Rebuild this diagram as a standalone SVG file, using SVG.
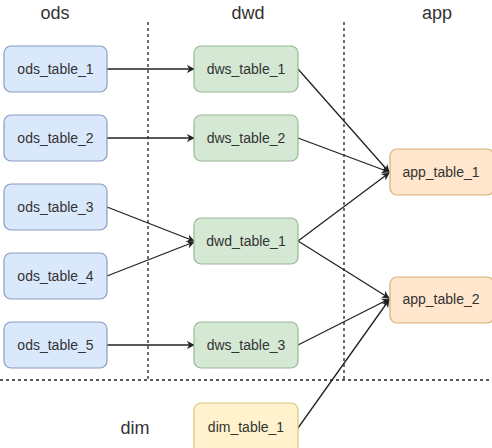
<svg xmlns="http://www.w3.org/2000/svg" width="492" height="448" viewBox="0 0 492 448">
<style>
.t{font-family:"Liberation Sans",Arial,sans-serif;font-size:14px;fill:#333;text-anchor:middle;dominant-baseline:central}
.h{font-family:"Liberation Sans",Arial,sans-serif;font-size:18px;fill:#333;text-anchor:middle;dominant-baseline:central}
.ods{fill:#dae8fc;stroke:#8a9cc0;stroke-width:1.2}
.dw{fill:#d5e8d4;stroke:#9ab894;stroke-width:1.2}
.app{fill:#ffe6cc;stroke:#d7b074;stroke-width:1.2}
.dim{fill:#fff2cc;stroke:#d8c37a;stroke-width:1.2}
.dash{stroke:#222;stroke-width:1.3;stroke-dasharray:3 3;fill:none}
.c{stroke:#222;stroke-width:1.3;fill:none;marker-end:url(#a)}
</style>
<defs>
<marker id="a" viewBox="0 0 10 10" refX="9" refY="5" markerWidth="8" markerHeight="8" markerUnits="userSpaceOnUse" orient="auto">
<path d="M0,0 L10,5 L0,10 L3,5 Z" fill="#222"/>
</marker>
</defs>
<rect width="492" height="448" fill="#fff"/>
<g id="lanes">
<line class="dash" x1="148" y1="22" x2="148" y2="380"/>
<line class="dash" x1="344" y1="22" x2="344" y2="380"/>
<line class="dash" x1="0" y1="380" x2="492" y2="380"/>
<text class="h" x="55" y="13">ods</text>
<text class="h" x="248" y="13">dwd</text>
<text class="h" x="437" y="13">app</text>
<text class="h" x="135" y="428">dim</text>
</g>
<g id="connectors">
<line class="c" x1="107" y1="69" x2="194" y2="69"/>
<line class="c" x1="107" y1="138" x2="194" y2="138"/>
<line class="c" x1="107" y1="207" x2="194" y2="241"/>
<line class="c" x1="107" y1="276" x2="194" y2="242"/>
<line class="c" x1="107" y1="345" x2="194" y2="345"/>
<line class="c" x1="298" y1="69" x2="389" y2="172"/>
<line class="c" x1="298" y1="138" x2="389" y2="172"/>
<line class="c" x1="298" y1="241" x2="389" y2="173"/>
<line class="c" x1="298" y1="241" x2="389" y2="298"/>
<line class="c" x1="298" y1="345" x2="389" y2="299"/>
<line class="c" x1="298" y1="428" x2="389" y2="300"/>
</g>
<g id="ods_table_1"><rect class="ods" x="4" y="46" width="103" height="46" rx="7"/><text class="t" x="55.5" y="69">ods_table_1</text></g>
<g id="ods_table_2"><rect class="ods" x="4" y="115" width="103" height="46" rx="7"/><text class="t" x="55.5" y="138">ods_table_2</text></g>
<g id="ods_table_3"><rect class="ods" x="4" y="184" width="103" height="46" rx="7"/><text class="t" x="55.5" y="207">ods_table_3</text></g>
<g id="ods_table_4"><rect class="ods" x="4" y="253" width="103" height="46" rx="7"/><text class="t" x="55.5" y="276">ods_table_4</text></g>
<g id="ods_table_5"><rect class="ods" x="4" y="322" width="103" height="46" rx="7"/><text class="t" x="55.5" y="345">ods_table_5</text></g>
<g id="dws_table_1"><rect class="dw" x="194" y="46" width="104" height="46" rx="7"/><text class="t" x="246" y="69">dws_table_1</text></g>
<g id="dws_table_2"><rect class="dw" x="194" y="115" width="104" height="46" rx="7"/><text class="t" x="246" y="138">dws_table_2</text></g>
<g id="dwd_table_1"><rect class="dw" x="194" y="218" width="104" height="46" rx="7"/><text class="t" x="246" y="241">dwd_table_1</text></g>
<g id="dws_table_3"><rect class="dw" x="194" y="322" width="104" height="46" rx="7"/><text class="t" x="246" y="345">dws_table_3</text></g>
<g id="dim_table_1"><rect class="dim" x="194" y="403" width="104" height="50" rx="7"/><text class="t" x="246" y="427">dim_table_1</text></g>
<g id="app_table_1"><rect class="app" x="390" y="149" width="104" height="46" rx="7"/><text class="t" x="441" y="172">app_table_1</text></g>
<g id="app_table_2"><rect class="app" x="390" y="277" width="104" height="46" rx="7"/><text class="t" x="441" y="299">app_table_2</text></g>
</svg>
